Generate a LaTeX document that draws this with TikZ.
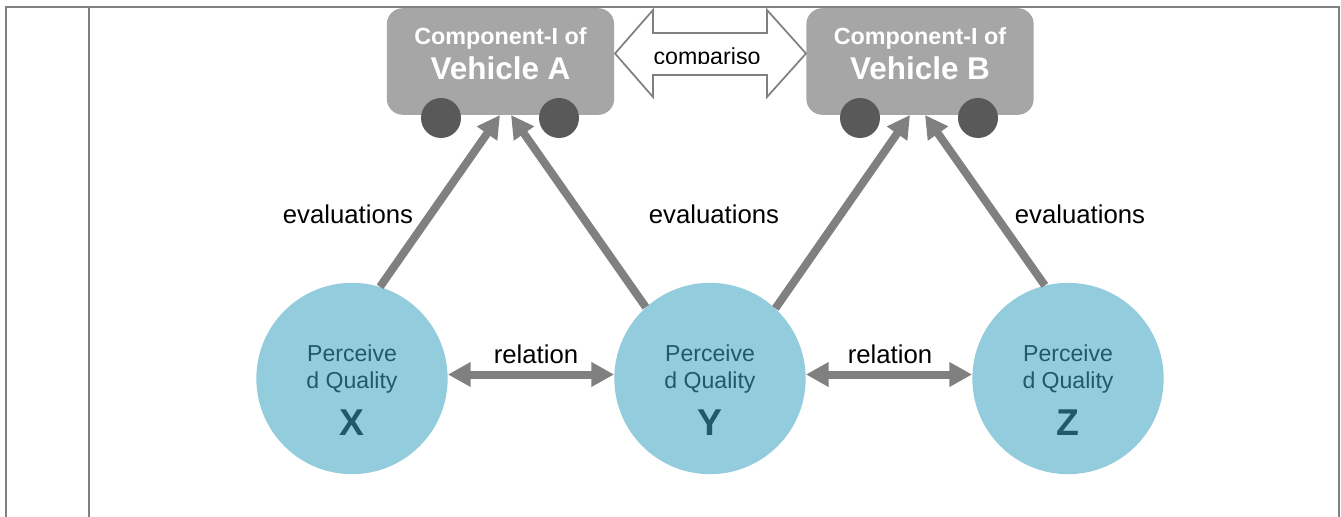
\documentclass[tikz,border=0pt]{standalone}
\usepackage{fontspec}
\setmainfont{Liberation Sans}
\usepackage{tikz}
\definecolor{boxgray}{HTML}{A6A6A6}
\definecolor{wheelgray}{HTML}{595959}
\definecolor{linegray}{HTML}{808080}
\definecolor{circblue}{HTML}{93CDDD}
\definecolor{circtext}{HTML}{215968}
\tikzstyle{texto}=[inner sep=0pt,minimum size=14pt]
\tikzstyle{vehicle}=[fill=boxgray,rounded corners=12pt,inner sep=0pt,minimum width=170.5pt,minimum height=80pt]
\tikzstyle{wheel}=[circle,fill=wheelgray,inner sep=0pt,minimum size=30pt]
\tikzstyle{quality}=[circle,fill=circblue,inner sep=0pt,minimum size=143.5pt]
\tikzstyle{eval}=[line width=6pt,color=linegray,-{Triangle[length=17pt,width=17.5pt]}]
\tikzstyle{rel}=[line width=6pt,color=linegray,{Triangle[length=17pt,width=17.5pt]}-{Triangle[length=17pt,width=17.5pt]}]
\tikzstyle{frameline}=[line width=1.9pt,color=linegray]
\usetikzlibrary{arrows.meta}
\begin{document}
\begin{tikzpicture}[x=0.75pt,y=-0.75pt]
    \useasboundingbox (0,0) rectangle (1341,517);
    \draw [frameline] (6,517) -- (6,7) -- (1339,7) -- (1339,517);
    \draw [frameline] (89,7) -- (89,517);
    \node [vehicle] (boxa) at (500.5,61.5) {};
    \node [vehicle] (boxb) at (920,61.5) {};
    \node [wheel] (wa1) at (441,118) {};
    \node [wheel] (wa2) at (559,118) {};
    \node [wheel] (wb1) at (860,118) {};
    \node [wheel] (wb2) at (978,118) {};
    \node [quality] (cx) at (352,378.5) {};
    \node [quality] (cy) at (710,378.5) {};
    \node [quality] (cz) at (1068,378.5) {};
    \coordinate (ta1) at (500,115);
    \coordinate (ta2) at (511,115);
    \coordinate (tb1) at (910,115);
    \coordinate (tb2) at (925,115);
    \draw [eval] (cx.73) -- (ta1);
    \draw [eval] (cy.132) -- (ta2);
    \draw [eval] (cy.47) -- (tb1);
    \draw [eval] (cz.104) -- (tb2);
    \draw [rel] ([yshift=3pt]cx.east) -- ([yshift=3pt]cy.west);
    \draw [rel] ([yshift=3pt]cy.east) -- ([yshift=3pt]cz.west);
    \draw [line width=1.3pt,color=linegray,fill=white] (615,53.5) -- (653,10) -- (653,33) -- (767,33) -- (767,10) -- (806,53.5) -- (767,97) -- (767,75) -- (653,75) -- (653,97) -- cycle;
    \begin{scope}
    \clip (640,40) rectangle (780,63.5);
    \node [texto,font=\fontsize{17.4pt}{18pt}\selectfont] (tcomp) at (707,59) {compariso};
    \end{scope}
    \node [texto,white,font=\bfseries\fontsize{17.5pt}{20pt}\selectfont] (ta3) at (500.5,38) {Component-I of};
    \node [texto,white,font=\bfseries\fontsize{23.6pt}{26pt}\selectfont] (ta4) at (500.5,68) {Vehicle A};
    \node [texto,white,font=\bfseries\fontsize{17.5pt}{20pt}\selectfont] (tb3) at (920,38) {Component-I of};
    \node [texto,white,font=\bfseries\fontsize{23.6pt}{26pt}\selectfont] (tb4) at (920,68) {Vehicle B};
    \node [texto,font=\fontsize{19.3pt}{22pt}\selectfont] (e1) at (348,214) {evaluations};
    \node [texto,font=\fontsize{19.3pt}{22pt}\selectfont] (e2) at (714,214) {evaluations};
    \node [texto,font=\fontsize{19.3pt}{22pt}\selectfont] (e3) at (1080,214) {evaluations};
    \node [texto,font=\fontsize{19.3pt}{22pt}\selectfont] (r1) at (536,354) {relation};
    \node [texto,font=\fontsize{19.3pt}{22pt}\selectfont] (r2) at (890,354) {relation};
    \node [texto,circtext,font=\fontsize{17.3pt}{20pt}\selectfont] (px1) at (352,353) {Perceive};
    \node [texto,circtext,font=\fontsize{17.3pt}{20pt}\selectfont] (px2) at (352,383) {d Quality};
    \node [texto,circtext,font=\bfseries\fontsize{28pt}{30pt}\selectfont] (px3) at (352,423) {X};
    \node [texto,circtext,font=\fontsize{17.3pt}{20pt}\selectfont] (py1) at (710,353) {Perceive};
    \node [texto,circtext,font=\fontsize{17.3pt}{20pt}\selectfont] (py2) at (710,383) {d Quality};
    \node [texto,circtext,font=\bfseries\fontsize{28pt}{30pt}\selectfont] (py3) at (710,423) {Y};
    \node [texto,circtext,font=\fontsize{17.3pt}{20pt}\selectfont] (pz1) at (1068,353) {Perceive};
    \node [texto,circtext,font=\fontsize{17.3pt}{20pt}\selectfont] (pz2) at (1068,383) {d Quality};
    \node [texto,circtext,font=\bfseries\fontsize{28pt}{30pt}\selectfont] (pz3) at (1068,423) {Z};
\end{tikzpicture}
\end{document}
